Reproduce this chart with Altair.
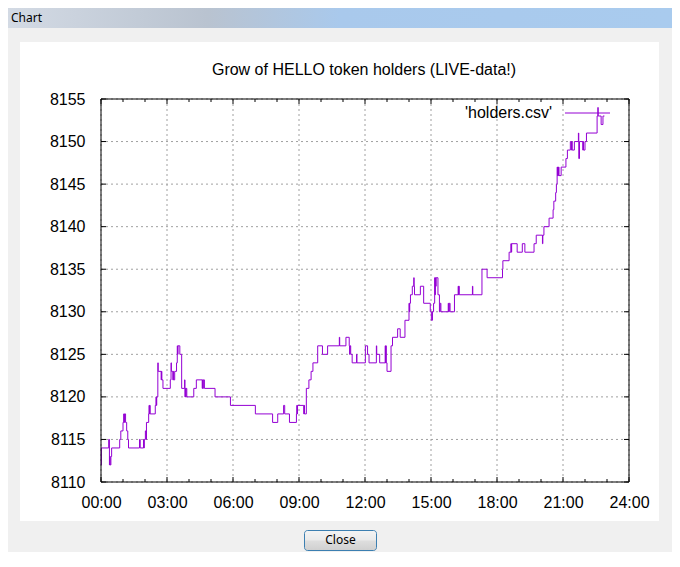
import altair as alt
import pandas as pd

# ---------------- data ----------------
times = [
    "00:00", "00:01", "00:21", "00:23", "00:24", "00:25", "00:27", "00:29", "00:51", "00:54",
    "01:00", "01:02", "01:03", "01:04", "01:07", "01:10", "01:13", "01:15", "01:45", "01:47",
    "01:56", "01:57", "01:58", "02:01", "02:03", "02:04", "02:10", "02:11", "02:12", "02:13",
    "02:14", "02:28", "02:30", "02:31", "02:32", "02:35", "02:36", "02:44", "02:45", "02:46",
    "02:49", "03:09", "03:11", "03:12", "03:16", "03:17", "03:18", "03:21", "03:26", "03:28",
    "03:29", "03:30", "03:35", "03:40", "03:48", "03:49", "03:50", "03:51", "03:52", "03:54",
    "04:13", "04:20", "04:36", "04:37", "04:38", "04:39", "04:42", "05:11", "05:53", "07:01",
    "07:48", "08:02", "08:18", "08:21", "08:34", "08:53", "08:54", "08:55", "08:56", "09:13",
    "09:14", "09:15", "09:20", "09:27", "09:33", "09:38", "09:51", "10:04", "10:18", "10:50",
    "10:51", "11:08", "11:17", "11:18", "11:19", "11:21", "11:25", "11:37", "11:38", "12:01",
    "12:07", "12:11", "12:31", "12:32", "12:40", "12:55", "12:56", "12:57", "12:58", "13:00",
    "13:11", "13:15", "13:29", "13:36", "13:49", "14:00", "14:01", "14:02", "14:04", "14:09",
    "14:13", "14:14", "14:15", "14:31", "14:40", "14:58", "15:01", "15:04", "15:07", "15:10",
    "15:11", "15:12", "15:13", "15:14", "15:19", "15:23", "15:25", "15:27", "15:47", "15:48",
    "15:50", "15:52", "16:04", "16:14", "16:15", "16:16", "16:17", "16:53", "16:54", "17:19",
    "17:33", "18:15", "18:16", "18:33", "18:38", "18:39", "18:40", "18:55", "19:09", "19:16",
    "19:41", "19:47", "20:04", "20:05", "20:08", "20:22", "20:33", "20:35", "20:40", "20:42",
    "20:44", "20:45", "20:46", "20:47", "20:48", "20:49", "20:55", "21:08", "21:12", "21:20",
    "21:23", "21:24", "21:25", "21:31", "21:42", "21:43", "21:45", "21:54", "21:55", "21:56",
    "22:00", "22:04", "22:33", "22:35", "22:36", "22:44", "22:49", "22:53",
]
holders = [
    8112, 8114, 8115, 8112, 8113, 8112, 8113, 8114, 8115, 8116,
    8117, 8118, 8117, 8118, 8117, 8116, 8115, 8114, 8115, 8114,
    8115, 8114, 8115, 8116, 8115, 8117, 8118, 8119, 8118, 8119,
    8118, 8119, 8120, 8119, 8120, 8124, 8123, 8122, 8123, 8122,
    8121, 8122, 8124, 8123, 8122, 8123, 8122, 8123, 8124, 8126,
    8125, 8126, 8125, 8121, 8122, 8120, 8121, 8120, 8121, 8120,
    8121, 8122, 8121, 8122, 8121, 8122, 8121, 8120, 8119, 8118,
    8117, 8118, 8119, 8118, 8117, 8118, 8119, 8118, 8119, 8118,
    8119, 8118, 8121, 8122, 8123, 8124, 8126, 8125, 8126, 8127,
    8126, 8127, 8126, 8125, 8126, 8125, 8124, 8125, 8124, 8126,
    8125, 8124, 8126, 8125, 8124, 8126, 8124, 8126, 8124, 8123,
    8126, 8127, 8128, 8127, 8129, 8131, 8130, 8131, 8132, 8133,
    8134, 8133, 8132, 8133, 8131, 8130, 8129, 8130, 8131, 8134,
    8132, 8134, 8133, 8134, 8132, 8130, 8131, 8130, 8131, 8130,
    8131, 8130, 8132, 8133, 8132, 8133, 8132, 8133, 8132, 8135,
    8134, 8135, 8136, 8137, 8138, 8137, 8138, 8137, 8138, 8137,
    8138, 8139, 8138, 8139, 8140, 8141, 8142, 8143, 8144, 8145,
    8147, 8146, 8147, 8146, 8147, 8146, 8147, 8148, 8149, 8150,
    8149, 8150, 8149, 8150, 8151, 8148, 8150, 8149, 8150, 8149,
    8150, 8151, 8153, 8154, 8153, 8152, 8153, 8153,
]
series_name = "'holders.csv'"
major_hours = [0, 3, 6, 9, 12, 15, 18, 21, 24]
minor_hours = [1, 2, 4, 5, 7, 8, 10, 11, 13, 14, 16, 17, 19, 20, 22, 23]
holder_ticks = [8110, 8115, 8120, 8125, 8130, 8135, 8140, 8145, 8150, 8155]
title_text = "Grow of HELLO token holders (LIVE-data!)"
window_title = "Chart"
button_label = "Close"

# ---------------- styling ----------------
W, H = 528, 383
FONT = "Liberation Sans"
UI_FONT = "Noto Sans"
LINE = "#9400D3"
GRID = "#a0a0a0"


def to_hours(t):
    h, m = t.split(":")
    return int(h) + int(m) / 60.0


data = pd.DataFrame({
    "hour": [to_hours(t) for t in times],
    "holders": holders,
})

xs = alt.Scale(domain=[0, 24], nice=False, zero=False)
ys = alt.Scale(domain=[8110, 8155], nice=False, zero=False)

x_axis = alt.Axis(
    values=major_hours,
    labelExpr="(datum.value < 10 ? '0' : '') + datum.value + ':00'",
    title=None, grid=False, ticks=False, domain=False,
    labelFont=FONT, labelFontSize=16, labelColor="black",
    labelPadding=12, labelFlush=False, labelOverlap=False, zindex=1)
y_axis = alt.Axis(
    values=holder_ticks, format="d", title=None, grid=False, ticks=False, domain=False,
    labelFont=FONT, labelFontSize=16, labelColor="black",
    labelPadding=16, labelOverlap=False, zindex=1)


def X(field="hour"):
    return alt.X(f"{field}:Q", scale=xs, axis=x_axis)


def Y(field="holders"):
    return alt.Y(f"{field}:Q", scale=ys, axis=y_axis)


one = pd.DataFrame({"k": [0]})

# ---- window chrome ----
panel = alt.Chart(one).mark_rect(fill="white").encode(
    x=alt.value(-81), x2=alt.value(558), y=alt.value(-57), y2=alt.value(422))

title_bar = alt.Chart(one).mark_rect(
    fill=alt.Gradient(
        gradient="linear", x1=0, x2=1, y1=0, y2=0,
        stops=[alt.GradientStop(color="#d3dae4", offset=0),
               alt.GradientStop(color="#b9c3d0", offset=0.3),
               alt.GradientStop(color="#a9c9ec", offset=0.5),
               alt.GradientStop(color="#a9cbee", offset=1)])
).encode(x=alt.value(-93), x2=alt.value(571), y=alt.value(-91), y2=alt.value(-71))

title_bar_text = alt.Chart(pd.DataFrame({"t": [window_title]})).mark_text(
    font=UI_FONT, fontSize=12, align="left", baseline="alphabetic", color="black"
).encode(text="t:N", x=alt.value(-90), y=alt.value(-77))

button = alt.Chart(one).mark_rect(
    cornerRadius=3, stroke="#3c7fb1", strokeWidth=1,
    fill=alt.Gradient(
        gradient="linear", x1=0, x2=0, y1=0, y2=1,
        stops=[alt.GradientStop(color="#f4f4f4", offset=0),
               alt.GradientStop(color="#ebebeb", offset=0.45),
               alt.GradientStop(color="#dddddd", offset=0.55),
               alt.GradientStop(color="#cfcfcf", offset=1)])
).encode(x=alt.value(203.5), x2=alt.value(275.5), y=alt.value(431.5), y2=alt.value(451.5))

button_text = alt.Chart(pd.DataFrame({"t": [button_label]})).mark_text(
    font=UI_FONT, fontSize=12, align="center", baseline="middle", color="black"
).encode(text="t:N", x=alt.value(239.5), y=alt.value(441))

# ---- chart title ----
title = alt.Chart(pd.DataFrame({"t": [title_text]})).mark_text(
    font=FONT, fontSize=16, align="center", baseline="alphabetic", color="black"
).encode(text="t:N", x=alt.value(263), y=alt.value(-24))

# ---- grid ----
xgrid = alt.Chart(pd.DataFrame({"hour": major_hours})).mark_rule(
    color=GRID, strokeDash=[2, 3], strokeWidth=1
).encode(x=X(), y=alt.value(0), y2=alt.value(H))

ygrid = alt.Chart(pd.DataFrame({"holders": holder_ticks})).mark_rule(
    color=GRID, strokeDash=[2, 3], strokeWidth=1
).encode(y=Y(), x=alt.value(0), x2=alt.value(W))

# ---- data line ----
line = alt.Chart(data).mark_line(
    interpolate="step-after", strokeWidth=1, color=LINE
).encode(x=X(), y=Y())

# ---- key (gnuplot style: label left, sample right) ----
key_text = alt.Chart(pd.DataFrame({"t": [series_name]})).mark_text(
    font=FONT, fontSize=16, align="right", baseline="alphabetic", color="black"
).encode(text="t:N", x=alt.value(451), y=alt.value(19))
key_line = alt.Chart(pd.DataFrame({"t": [series_name]})).mark_rule(
    color=LINE, strokeWidth=1
).encode(x=alt.value(464), x2=alt.value(509), y=alt.value(14))


# ---- inward ticks (gnuplot style) ----
def xticks(hours, length):
    src = pd.DataFrame({"hour": hours})
    bottom = alt.Chart(src).mark_rule(color="black", strokeWidth=1).encode(
        x=X(), y=alt.value(H), y2=alt.value(H - length))
    top = alt.Chart(src).mark_rule(color="black", strokeWidth=1).encode(
        x=X(), y=alt.value(0), y2=alt.value(length))
    return [bottom, top]


src_y = pd.DataFrame({"holders": holder_ticks})
yticks_left = alt.Chart(src_y).mark_rule(color="black", strokeWidth=1).encode(
    y=Y(), x=alt.value(0), x2=alt.value(5))
yticks_right = alt.Chart(src_y).mark_rule(color="black", strokeWidth=1).encode(
    y=Y(), x=alt.value(W), x2=alt.value(W - 5))

frame = alt.Chart(one).mark_rect(filled=False, stroke="black", strokeWidth=1).encode(
    x=alt.value(0), x2=alt.value(W), y=alt.value(0), y2=alt.value(H))

layers = [panel, title_bar, title_bar_text, button, button_text, title,
          xgrid, ygrid, line, key_text, key_line] + \
         xticks(major_hours, 5) + xticks(minor_hours, 3) + \
         [yticks_left, yticks_right, frame]

chart = alt.layer(*layers).properties(
    width=W, height=H,
    background="#f0f0f0",
    padding={"left": 93, "top": 91, "right": 43, "bottom": 70},
    autosize=alt.AutoSizeParams(type="none"),
).configure_view(strokeWidth=0)

chart.save("out.html", embed_options={"renderer": "svg", "actions": False})
